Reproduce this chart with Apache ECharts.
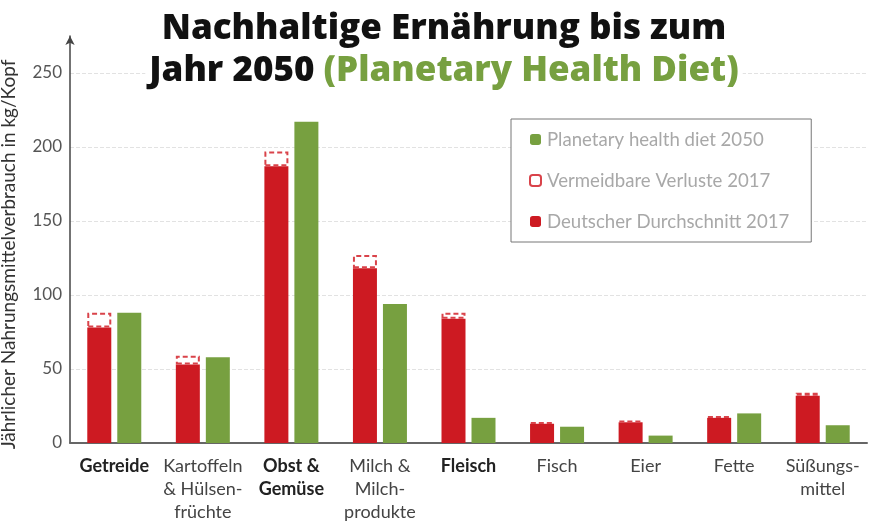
<!DOCTYPE html>
<html>
<head>
<meta charset="utf-8">
<script src="https://cdn.jsdelivr.net/npm/echarts@6/dist/echarts.min.js"></script>
<style>
  html, body { margin: 0; padding: 0; background: #fff; }
  #chart { width: 869px; height: 523px; }
</style>
</head>
<body>
<div id="chart"></div>
<script>
// Kategorien und Werte (kg pro Kopf und Jahr)
var categories = [
    '{b|Getreide}',
    'Kartoffeln\n& Hülsen-\nfrüchte',
    '{b|Obst &}\n{b|Gemüse}',
    'Milch &\nMilch-\nprodukte',
    '{b|Fleisch}',
    'Fisch',
    'Eier',
    'Fette',
    'Süßungs-\nmittel'
];
var deutscherDurchschnitt = [78, 53, 187, 118, 84, 13, 14, 17, 32];
var vermeidbareVerluste = [10, 6, 10, 9, 4, 1, 1, 1, 2];
var planetaryDiet = [88, 58, 217, 94, 17, 11, 5, 20, 12];
var yTicks = [0, 50, 100, 150, 200, 250];

var red = '#cd1a22';
var green = '#77a040';

var chart = echarts.init(document.getElementById('chart'));
chart.setOption({
    animation: false,
    title: {
        text: '{a|Nachhaltige Ernährung bis zum}\n{a|Jahr 2050 }{g|(Planetary Health Diet)}',
        left: 440,
        top: 6,
        textAlign: 'center',
        padding: [2, 4],
        backgroundColor: '#fff',
        textStyle: {
            rich: {
                a: { fontFamily: 'Open Sans', fontWeight: 800, fontSize: 35, color: '#111', lineHeight: 42 },
                g: { fontFamily: 'Open Sans', fontWeight: 800, fontSize: 35, color: green, lineHeight: 42 }
            }
        }
    },
    legend: {
        orient: 'vertical',
        left: 511,
        top: 119,
        padding: [11, 22, 11, 18],
        itemGap: 22,
        itemWidth: 11,
        itemHeight: 11,
        borderColor: '#777',
        borderWidth: 1,
        backgroundColor: '#fff',
        data: ['Planetary health diet 2050', 'Vermeidbare Verluste 2017', 'Deutscher Durchschnitt 2017'],
        textStyle: { fontFamily: 'Lato', fontSize: 18.6, color: '#a8a8a8', padding: [0, 0, 0, 1] }
    },
    grid: {
        left: 70,
        right: 2,
        top: 36,
        bottom: 80,
        outerBoundsMode: 'none'
    },
    xAxis: {
        type: 'category',
        data: categories,
        axisLine: { lineStyle: { color: '#666', width: 2 } },
        axisTick: { show: false },
        axisLabel: {
            interval: 0,
            margin: 12,
            fontFamily: 'Lato',
            fontSize: 18,
            color: '#444',
            lineHeight: 23,
            rich: {
                b: { fontFamily: 'Lato', fontWeight: 'bold', fontSize: 18, color: '#222', lineHeight: 23 }
            }
        }
    },
    yAxis: {
        type: 'value',
        min: 0,
        max: 275,
        interval: 50,
        name: 'Jährlicher Nahrungsmittelverbrauch in kg/Kopf',
        nameLocation: 'middle',
        nameGap: 52,
        nameRotate: 90,
        nameTextStyle: { fontFamily: 'Lato', fontSize: 19, color: '#333', padding: [0, 30, 0, 0] },
        axisLine: {
            show: true,
            symbol: ['none', 'arrow'],
            symbolSize: [7, 9],
            lineStyle: { color: '#444', width: 1.5 }
        },
        axisTick: { show: false },
        axisLabel: {
            showMaxLabel: false,
            margin: 8,
            fontFamily: 'Lato',
            fontSize: 17,
            color: '#555',
            formatter: function (v) { return yTicks.indexOf(v) >= 0 ? v : ''; }
        },
        splitLine: {
            showMaxLine: false,
            lineStyle: { color: '#e2e2e2', type: 'dashed' }
        }
    },
    series: [{
        name: 'Deutscher Durchschnitt 2017',
        type: 'bar',
        stack: 'de',
        barWidth: 24,
        barGap: '25%',
        itemStyle: { color: red },
        data: deutscherDurchschnitt
    }, {
        name: 'Vermeidbare Verluste 2017',
        type: 'bar',
        stack: 'de',
        barWidth: 24,
        itemStyle: {
            color: '#fff',
            borderColor: '#d9434a',
            borderWidth: 2,
            borderType: [5, 3]
        },
        data: vermeidbareVerluste
    }, {
        name: 'Planetary health diet 2050',
        type: 'bar',
        barWidth: 24,
        barGap: '25%',
        itemStyle: { color: green },
        data: planetaryDiet
    }]
});
</script>
</body>
</html>
